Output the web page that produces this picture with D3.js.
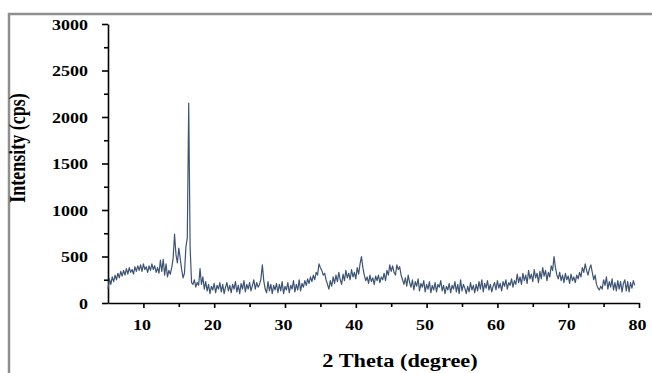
<!DOCTYPE html>
<html>
<head>
<meta charset="utf-8">
<script src="https://cdn.jsdelivr.net/npm/d3@7"></script>
<style>
  body { margin: 0; background: #fff; }
  svg { display: block; }
  .tick text, .title { font-family: "Liberation Serif", "Times New Roman", serif; font-weight: bold; fill: #000; }
</style>
</head>
<body>
<div id="chart"></div>
<script>
// intensities, one every 0.2 degree from 5.0
const startAngle = 5;
const step = 0.2;
const intensity = [
  150, 260, 200, 280, 230, 300, 250, 320, 270, 340,   // 5
  290, 350, 300, 370, 310, 380, 330, 360, 310, 390,   // 7
  340, 400, 350, 410, 340, 420, 360, 390, 330, 400,   // 9
  350, 420, 360, 400, 330, 380, 320, 460, 340, 470,   // 11
  300, 420, 280, 350, 310, 380, 480, 740, 520, 430,   // 13
  590, 480, 360, 270, 320, 600, 700, 2150, 600, 220,  // 15
  200, 250, 170, 220, 190, 370, 200, 280, 150, 230,   // 17
  130, 200, 100, 180, 140, 210, 110, 190, 150, 220,   // 19
  120, 200, 100, 170, 220, 130, 190, 110, 200, 150,   // 21
  230, 120, 190, 100, 210, 150, 240, 120, 200, 150,   // 23
  220, 130, 190, 250, 150, 220, 170, 200, 260, 410,   // 25
  240, 150, 110, 230, 130, 200, 100, 190, 140, 210,   // 27
  110, 200, 130, 230, 100, 180, 140, 220, 110, 190,   // 29
  150, 240, 120, 200, 140, 250, 130, 210, 170, 240,   // 31
  190, 260, 210, 280, 230, 300, 250, 330, 300, 420,   // 33
  380, 350, 300, 320, 250, 200, 150, 240, 180, 280,   // 35
  210, 300, 230, 330, 250, 200, 310, 240, 350, 270,   // 37
  320, 250, 360, 280, 330, 260, 380, 310, 420, 500,   // 39
  380, 300, 240, 280, 210, 300, 230, 270, 200, 290,   // 41
  240, 300, 220, 280, 250, 320, 240, 350, 300, 410,   // 43
  340, 400, 330, 300, 410, 360, 390, 300, 250, 200,   // 45
  270, 180, 300, 220, 170, 250, 140, 230, 180, 260,   // 47
  130, 210, 170, 240, 120, 200, 150, 230, 110, 190,   // 49
  140, 220, 120, 200, 170, 240, 130, 190, 100, 180,   // 51
  140, 210, 110, 190, 150, 230, 120, 200, 100, 250,   // 53
  130, 200, 160, 100, 180, 120, 220, 140, 190, 110,   // 55
  200, 130, 230, 150, 250, 120, 210, 160, 240, 140,   // 57
  200, 120, 180, 220, 140, 240, 160, 210, 130, 230,   // 59
  180, 250, 150, 220, 190, 260, 170, 240, 200, 310,   // 61
  220, 280, 200, 320, 240, 300, 210, 350, 260, 310,   // 63
  230, 360, 270, 320, 220, 340, 260, 380, 290, 350,   // 65
  240, 330, 280, 400, 350, 500, 380, 300, 260, 330,   // 67
  240, 300, 220, 320, 250, 290, 210, 310, 240, 280,   // 69
  220, 300, 260, 330, 280, 380, 330, 420, 350, 300,   // 71
  370, 410, 330, 250, 300, 200, 160, 140, 180, 150,   // 73
  250, 190, 280, 150, 230, 170, 260, 140, 220, 130,   // 75
  240, 150, 230, 120, 210, 250, 130, 230, 120, 220,   // 77
  160, 240, 190                                       // 79
];
const xMajor = [10, 20, 30, 40, 50, 60, 70, 80];
const xMinor = [15, 25, 35, 45, 55, 65, 75];
const yMajor = [0, 500, 1000, 1500, 2000, 2500, 3000];
const yMinor = [250, 750, 1250, 1750, 2250, 2750];

const data = intensity.map((v, i) => ({ angle: startAngle + i * step, value: v }));

const width = 652;
const height = 373;
const stretch = 1.24; // le scan d'origine est étiré en largeur

const svg = d3.select("#chart").append("svg")
  .attr("width", width)
  .attr("height", height);

// cadre gris
svg.append("path")
  .attr("d", `M9,${height} V14 H${width}`)
  .attr("fill", "none")
  .attr("stroke", "#8e8e8e")
  .attr("stroke-width", 2.5);

const x = d3.scaleLinear().domain([5, 80]).range([108, 639]);
const y = d3.scaleLinear().domain([0, 3000]).range([303, 24]);

// y axis
svg.append("g")
  .attr("transform", "translate(108,0)")
  .call(d3.axisLeft(y).tickValues(yMinor).tickSize(4).tickSizeOuter(0).tickFormat(""))
  .call(g => g.select(".domain").remove());

svg.append("g")
  .attr("transform", "translate(108,0)")
  .call(d3.axisLeft(y).tickValues(yMajor).tickSize(6).tickSizeOuter(0).tickFormat(d3.format("d")))
  .call(g => g.selectAll(".tick text")
    .attr("x", 0).attr("dy", "0.35em")
    .attr("transform", `translate(-20,0) scale(${stretch},1)`)
    .style("font-size", "14.5px"));

// x axis
svg.append("g")
  .attr("transform", "translate(0,303)")
  .call(d3.axisBottom(x).tickValues(xMinor).tickSize(4).tickSizeOuter(0).tickFormat(""))
  .call(g => g.select(".domain").remove());

svg.append("g")
  .attr("transform", "translate(0,303)")
  .call(d3.axisBottom(x).tickValues(xMajor).tickSize(5).tickSizeOuter(0).tickFormat(d3.format("d")))
  .call(g => g.selectAll(".tick text")
    .attr("y", 0).attr("dy", 0)
    .attr("transform", `translate(-2,27) scale(${stretch},1)`)
    .style("font-size", "14.5px"));

svg.selectAll(".domain, .tick line")
  .attr("stroke", "#000")
  .attr("stroke-width", 1.6);

// titles
svg.append("text")
  .attr("class", "title")
  .attr("transform", `translate(25,148) scale(${stretch},1) rotate(-90)`)
  .attr("text-anchor", "middle")
  .style("font-size", "18px")
  .text("Intensity (cps)");

svg.append("text")
  .attr("class", "title")
  .attr("transform", `translate(400,367) scale(${stretch},1)`)
  .attr("text-anchor", "middle")
  .style("font-size", "18px")
  .text("2 Theta (degree)");

const line = d3.line()
  .x(d => x(d.angle))
  .y(d => y(d.value));

svg.append("path")
  .datum(data)
  .attr("fill", "none")
  .attr("stroke", "#3d5474")
  .attr("stroke-width", 1.2)
  .attr("stroke-linejoin", "round")
  .attr("d", line);
</script>
</body>
</html>
